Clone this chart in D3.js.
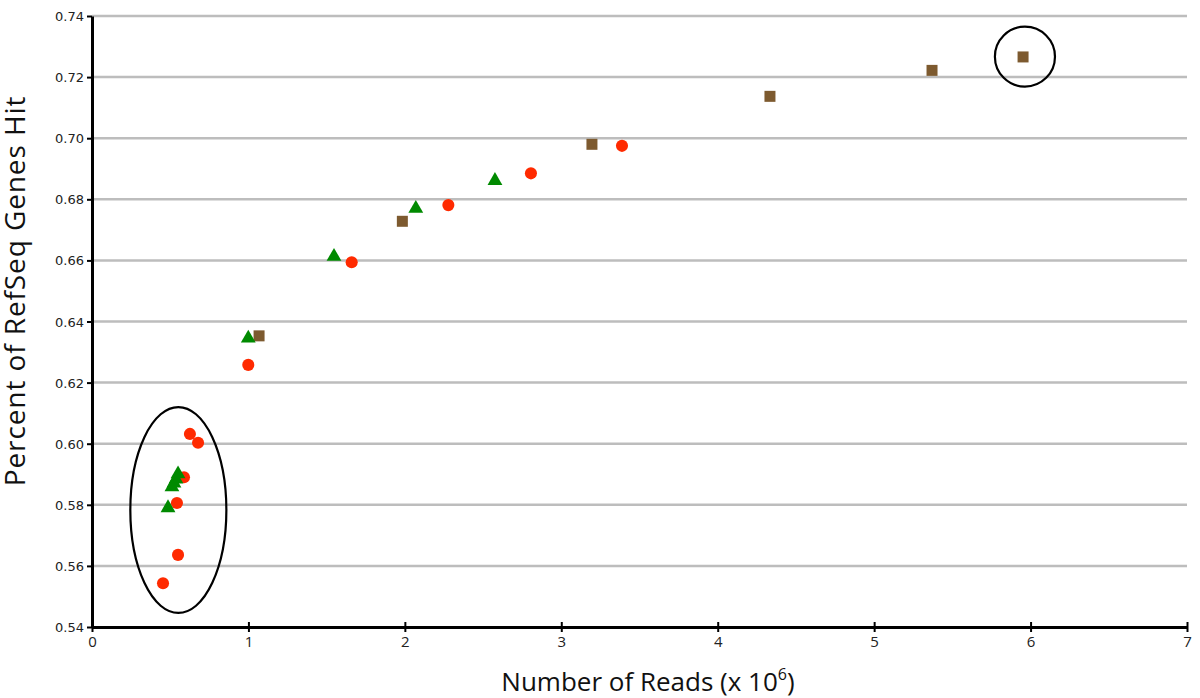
<!DOCTYPE html>
<html>
<head>
<meta charset="utf-8">
<script src="https://cdn.jsdelivr.net/npm/d3@7"></script>
<style>
  body { margin: 0; background: #fff; }
  svg { display: block; }
</style>
</head>
<body>
<script>
//reads in millions vs fraction of RefSeq genes hit
var circleX = [0.454, 0.550, 0.543, 0.588, 0.626, 0.678, 0.999, 1.660, 2.278, 2.806, 3.388];
var circleY = [0.5543, 0.5636, 0.5806, 0.5890, 0.6032, 0.6003, 0.6258, 0.6594, 0.6781, 0.6885, 0.6975];

var triangleX = [0.486, 0.511, 0.524, 0.537, 0.550, 0.999, 1.547, 2.070, 2.576];
var triangleY = [0.5790, 0.5858, 0.5871, 0.5884, 0.5901, 0.6345, 0.6613, 0.6770, 0.6861];

var squareX = [1.068, 1.984, 3.196, 4.334, 5.370, 5.952];
var squareY = [0.6353, 0.6728, 0.6980, 0.7137, 0.7222, 0.7266];

//hand drawn rings (centre x, centre y, radius x, radius y) in data units
var ringCx = [0.552, 5.964];
var ringCy = [0.5783, 0.7267];
var ringRx = [0.307, 0.192];
var ringRy = [0.0337, 0.0098];

var xTicks = [0, 1, 2, 3, 4, 5, 6, 7];
var yTicks = [0.54, 0.56, 0.58, 0.60, 0.62, 0.64, 0.66, 0.68, 0.70, 0.72, 0.74];

var w = 1200, h = 698;
var mLeft = 92, mRight = 1187, mTop = 16, mBottom = 627;

var svg = d3.select("body").append("svg")
  .attr("width", w)
  .attr("height", h);

var x = d3.scaleLinear().domain([0, 7]).range([mLeft, mRight]);
var y = d3.scaleLinear().domain([0.54, 0.74]).range([mBottom, mTop]);

//gridlines
svg.append("g")
  .selectAll("line")
  .data(yTicks.slice(1))
  .enter()
  .append("line")
  .attr("x1", mLeft)
  .attr("x2", mRight)
  .attr("y1", function(d){ return y(d); })
  .attr("y2", function(d){ return y(d); })
  .style("stroke", "#bdbdbd")
  .style("stroke-width", 2.5);

//y axis
var yAxis = svg.append("g")
  .attr("transform", "translate(" + mLeft + ",0)")
  .call(d3.axisLeft(y).tickValues(yTicks).tickFormat(d3.format(".2f")).tickSize(5).tickSizeOuter(0));
yAxis.select(".domain").style("stroke", "#000").style("stroke-width", 3);
yAxis.selectAll(".tick line").style("stroke", "#000").style("stroke-width", 2);
yAxis.selectAll(".tick text")
  .attr("x", -8)
  .attr("dy", "0.35em")
  .style("font-family", "'DejaVu Sans', Verdana, sans-serif")
  .style("font-size", "13px")
  .style("fill", "#222");

//x axis
var xAxis = svg.append("g")
  .attr("transform", "translate(0," + mBottom + ")")
  .call(d3.axisBottom(x).tickValues(xTicks).tickFormat(d3.format("d")).tickSize(5).tickSizeOuter(0));
xAxis.select(".domain").style("stroke", "#000").style("stroke-width", 3);
xAxis.selectAll(".tick line").attr("y1", -5).style("stroke", "#000").style("stroke-width", 2);
xAxis.selectAll(".tick text")
  .attr("y", 9)
  .style("font-family", "'Open Sans', sans-serif")
  .style("font-size", "15px")
  .style("fill", "#222");

//points
var circles = d3.zip(circleX, circleY);
var triangles = d3.zip(triangleX, triangleY);
var squares = d3.zip(squareX, squareY);

svg.append("g").selectAll("path")
  .data(squares)
  .enter()
  .append("path")
  .attr("d", d3.symbol().type(d3.symbolSquare).size(121))
  .attr("transform", function(d){ return "translate(" + x(d[0]) + "," + y(d[1]) + ")"; })
  .style("fill", "#7d5a2f");

svg.append("g").selectAll("path")
  .data(circles)
  .enter()
  .append("path")
  .attr("d", d3.symbol().type(d3.symbolCircle).size(115))
  .attr("transform", function(d){ return "translate(" + x(d[0]) + "," + y(d[1]) + ")"; })
  .style("fill", "#ff2a00");

svg.append("g").selectAll("path")
  .data(triangles)
  .enter()
  .append("path")
  .attr("d", d3.symbol().type(d3.symbolTriangle).size(95))
  .attr("transform", function(d){ return "translate(" + x(d[0]) + "," + y(d[1]) + ")"; })
  .style("fill", "#008a00");

//rings
svg.append("g").selectAll("ellipse")
  .data(d3.range(ringCx.length))
  .enter()
  .append("ellipse")
  .attr("cx", function(i){ return x(ringCx[i]); })
  .attr("cy", function(i){ return y(ringCy[i]); })
  .attr("rx", function(i){ return x(ringRx[i]) - x(0); })
  .attr("ry", function(i){ return y(0.54) - y(0.54 + ringRy[i]); })
  .style("fill", "none")
  .style("stroke", "#000")
  .style("stroke-width", 2.2);

//axis titles
var xTitle = svg.append("text")
  .attr("text-anchor", "middle")
  .attr("x", 648)
  .attr("y", 691)
  .style("font-family", "'Open Sans', sans-serif")
  .style("font-size", "26px")
  .style("fill", "#111");
xTitle.append("tspan").text("Number of Reads (x 10");
xTitle.append("tspan").style("font-size", "16px").attr("dy", -11).text("6");
xTitle.append("tspan").attr("dy", 11).text(")");

svg.append("text")
  .attr("text-anchor", "middle")
  .attr("transform", "translate(25,291) rotate(-90)")
  .style("font-family", "'Open Sans', sans-serif")
  .style("font-size", "28px")
  .style("letter-spacing", "0.9px")
  .style("fill", "#111")
  .text("Percent of RefSeq Genes Hit");
</script>
</body>
</html>
